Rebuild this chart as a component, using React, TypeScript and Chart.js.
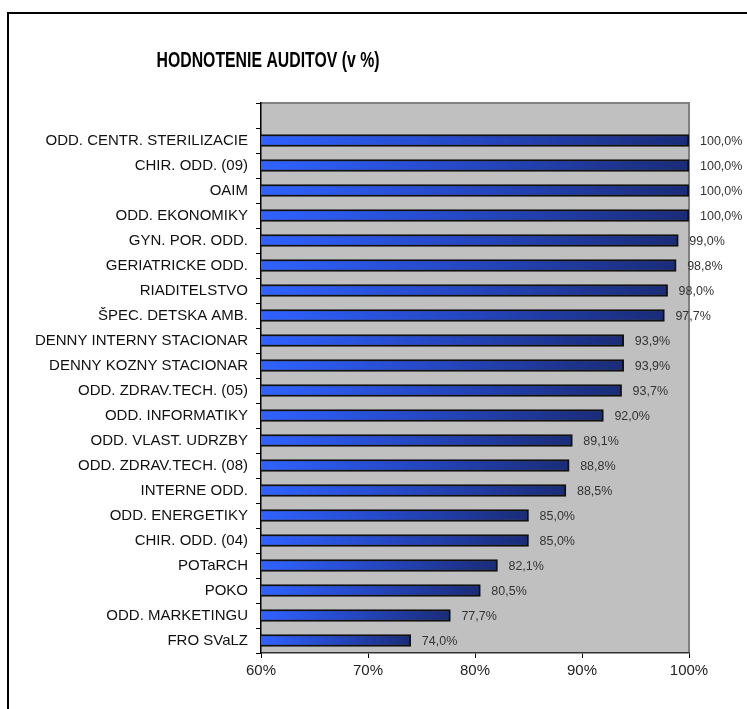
import React, { useEffect, useRef } from "react";
import { Chart, registerables } from "chart.js";

Chart.register(...registerables);

const TITLE = "HODNOTENIE AUDITOV (v %)";

const categories = [
  "",
  "ODD. CENTR. STERILIZACIE",
  "CHIR. ODD. (09)",
  "OAIM",
  "ODD. EKONOMIKY",
  "GYN. POR. ODD.",
  "GERIATRICKE ODD.",
  "RIADITELSTVO",
  "ŠPEC. DETSKA AMB.",
  "DENNY INTERNY STACIONAR",
  "DENNY KOZNY STACIONAR",
  "ODD. ZDRAV.TECH. (05)",
  "ODD. INFORMATIKY",
  "ODD. VLAST. UDRZBY",
  "ODD. ZDRAV.TECH. (08)",
  "INTERNE ODD.",
  "ODD. ENERGETIKY",
  "CHIR. ODD. (04)",
  "POTaRCH",
  "POKO",
  "ODD. MARKETINGU",
  "FRO SVaLZ",
];

const values: (number | null)[] = [
  null, 100, 100, 100, 100, 99.0, 98.8, 98.0, 97.7, 93.9, 93.9, 93.7, 92.0,
  89.1, 88.8, 88.5, 85.0, 85.0, 82.1, 80.5, 77.7, 74.0,
];

const X_MIN = 60;
const X_MAX = 100;
const X_STEP = 10;

const FONT = "'Liberation Sans', Arial, sans-serif";

const framePlugin = {
  id: "frame",
  beforeDraw(chart: any) {
    const { ctx, chartArea: a } = chart;
    ctx.save();
    ctx.fillStyle = "#ffffff";
    ctx.fillRect(0, 0, chart.width, chart.height);
    // outer frame (top + left)
    ctx.strokeStyle = "#000";
    ctx.lineWidth = 2;
    ctx.beginPath();
    ctx.moveTo(8, 709);
    ctx.lineTo(8, 13);
    ctx.lineTo(747, 13);
    ctx.stroke();
    // plot area
    ctx.fillStyle = "#c0c0c0";
    ctx.fillRect(a.left, a.top, a.right - a.left, a.bottom - a.top);
    ctx.strokeStyle = "#808080";
    ctx.lineWidth = 2;
    ctx.beginPath();
    ctx.moveTo(a.left, a.top);
    ctx.lineTo(a.right, a.top);
    ctx.lineTo(a.right, a.bottom);
    ctx.stroke();
    // title (condensed)
    ctx.fillStyle = "#000";
    ctx.font = `bold 22px ${FONT}`;
    ctx.textAlign = "center";
    ctx.textBaseline = "middle";
    const w = ctx.measureText(TITLE).width;
    const sx = 223 / w;
    ctx.translate(268, 61);
    ctx.scale(sx, 1);
    ctx.fillText(TITLE, 0, 0);
    ctx.restore();
  },
  afterDatasetsDraw(chart: any) {
    const { ctx } = chart;
    const meta = chart.getDatasetMeta(0);
    ctx.save();
    ctx.fillStyle = "#333";
    ctx.font = `12.5px ${FONT}`;
    ctx.textAlign = "left";
    ctx.textBaseline = "middle";
    meta.data.forEach((el: any, i: number) => {
      const v = values[i];
      if (v == null) return;
      ctx.fillText(v.toFixed(1).replace(".", ",") + "%", el.x + 11, el.y + 1);
    });
    ctx.restore();
  },
};

export default function App() {
  const ref = useRef<HTMLCanvasElement>(null);
  useEffect(() => {
    if (!ref.current) return;
    const chart = new Chart(ref.current, {
      type: "bar",
      data: {
        labels: categories,
        datasets: [
          {
            data: values,
            barThickness: 12,
            borderColor: "#111",
            borderWidth: 2,
            borderSkipped: false,
            backgroundColor: (c: any) => {
              const ch = c.chart;
              const xs = ch.scales?.x;
              const v = c.raw;
              if (!xs || v == null) return "#2a5cf5";
              const x0 = xs.getPixelForValue(X_MIN);
              const x1 = xs.getPixelForValue(v);
              const g = ch.ctx.createLinearGradient(x0, 0, x1, 0);
              g.addColorStop(0, "#2f62ff");
              g.addColorStop(0.45, "#2549c8");
              g.addColorStop(1, "#1a2c78");
              return g;
            },
          },
        ],
      },
      options: {
        indexAxis: "y",
        animation: false,
        responsive: false,
        maintainAspectRatio: false,
        layout: { padding: { top: 103, right: 58, left: 0, bottom: 0 } },
        plugins: { legend: { display: false }, tooltip: { enabled: false }, title: { display: false } },
        scales: {
          x: {
            type: "linear",
            min: X_MIN,
            max: X_MAX,
            afterFit: (s: any) => { s.height = 56; },
            ticks: {
              stepSize: X_STEP,
              callback: (v: any) => v + "%",
              color: "#222",
              font: { family: FONT, size: 15 },
              padding: 4,
            },
            grid: { drawOnChartArea: false, tickLength: 5, color: "#000" },
            border: { color: "#333", width: 1.5 },
          },
          y: {
            afterFit: (s: any) => { s.width = 261; },
            ticks: {
              color: "#111",
              font: { family: FONT, size: 15 },
              padding: 8,
              autoSkip: false,
            },
            grid: { offset: true, drawOnChartArea: false, tickLength: 5, color: "#000" },
            border: { color: "#000", width: 1.5 },
          },
        },
      },
      plugins: [framePlugin],
    });
    return () => chart.destroy();
  }, []);
  return (
    <canvas
      ref={ref}
      width={747}
      height={709}
      style={{ position: "fixed", left: 0, top: 0, width: 747, height: 709 }}
    />
  );
}
